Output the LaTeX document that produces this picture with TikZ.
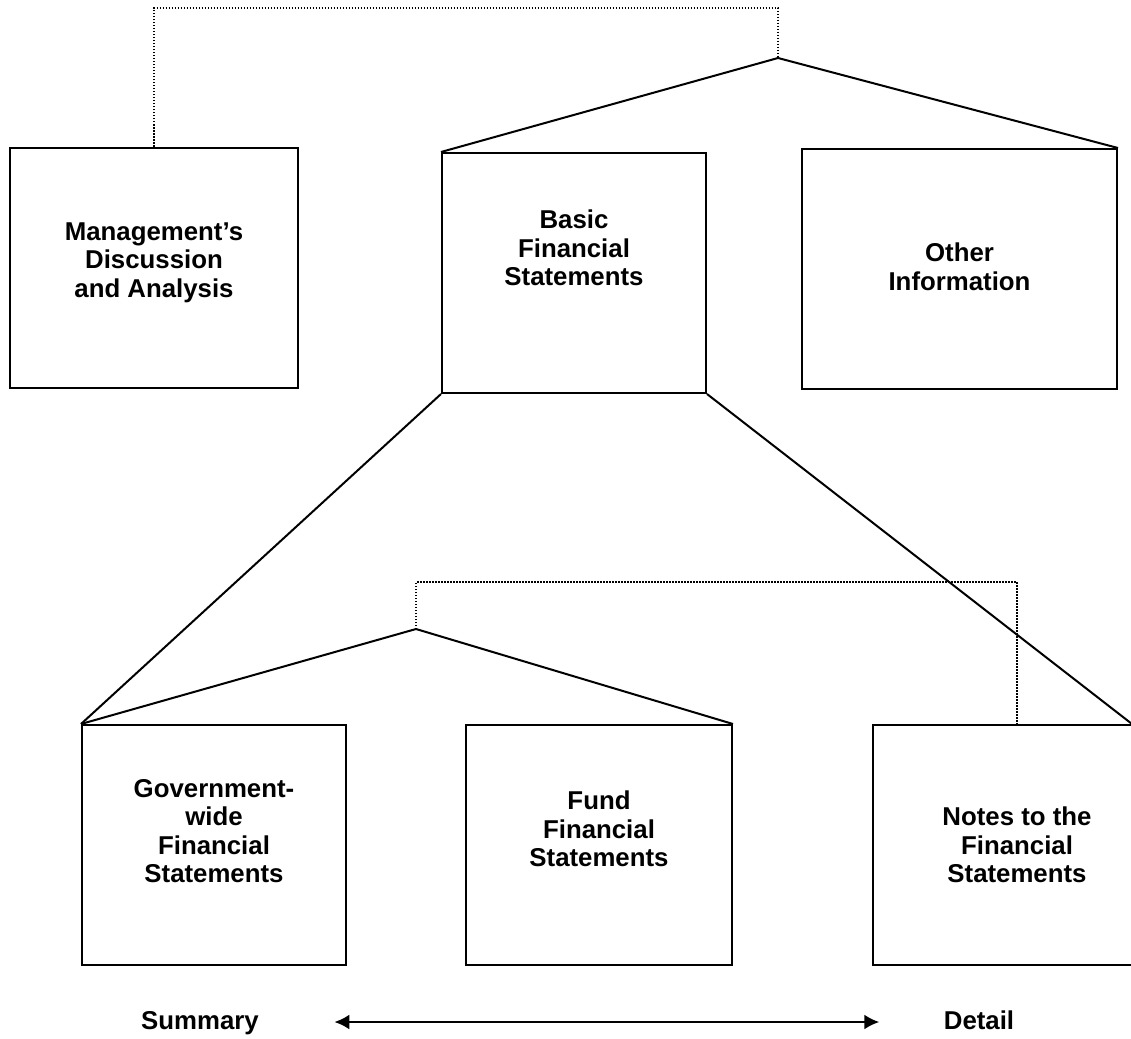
\documentclass[tikz,border=0pt]{standalone}
\usepackage{fontspec}
\setmainfont{Liberation Sans}
\usetikzlibrary{arrows.meta}

\begin{document}
\begin{tikzpicture}[x=1pt, y=-1pt,
    fsbox/.style={draw, line width=2pt, inner sep=0pt, minimum height=240pt},
    fstext/.style={font=\bfseries\fontsize{25.8}{28.5}\selectfont, align=center},
    endlabel/.style={fstext, text height=19pt, text depth=5pt},
    dotline/.style={line width=1.5pt, dash pattern=on 1.5pt off 1.5pt},
    solidline/.style={line width=2pt},
    twoway/.style={line width=2.5pt, {Latex[length=15pt,width=15pt]}-{Latex[length=15pt,width=15pt]}}]
    	\useasboundingbox (0,0) rectangle (1131,1038);

    	% top row
    	\node[fsbox, minimum width=288pt] (mda) at (154,267.5) {};
    	\node[fsbox, minimum width=264pt] (basic) at (574,273) {};
    	\node[fsbox, minimum width=315pt] (other) at (959.5,269) {};
    	\node[fstext] (mdaT) at ([yshift=5]mda.center) {Management's\\Discussion\\and Analysis};
    	\node[fstext] (basicT) at ([yshift=25]basic.center) {Basic\\Financial\\Statements};
    	\node[fstext] (otherT) at ([yshift=2]other.center) {Other\\Information};

    	% bottom row
    	\node[fsbox, minimum width=264pt] (gov) at (214,845) {};
    	\node[fsbox, minimum width=266pt] (fund) at (599,845) {};
    	\node[fsbox, minimum width=288pt] (notes) at (1017,845) {};
    	\node[fstext] (govT) at ([yshift=14]gov.center) {Government-\\wide\\Financial\\Statements};
    	\node[fstext] (fundT) at ([yshift=16]fund.center) {Fund\\Financial\\Statements};
    	\node[fstext] (notesT) at (notes.center) {Notes to the\\Financial\\Statements};

    	% top apex
    	\coordinate (top) at (778,58);
    	\coordinate (topbend) at (778,8);
    	\draw[solidline] (basic.north west) -- (top) -- (other.north east);
    	\draw[dotline] (mda.north) |- (topbend) -- (top);

    	% basic to bottom row
    	\draw[solidline] (basic.south west) -- (gov.north west);
    	\draw[solidline] (basic.south east) -- ([xshift=115]notes.north);

    	% bottom apex
    	\coordinate (low) at (416,629);
    	\coordinate (lowbend) at (416,582);
    	\draw[solidline] (gov.north west) -- (low) -- (fund.north east);
    	\draw[dotline] (low) -- (lowbend) -| (notes.north);

    	% summary to detail
    	\node[endlabel] (summary) at (200,1022) {Summary};
    	\node[endlabel] (detail) at (979,1022) {Detail};
    	\draw[twoway] ([xshift=72]summary.east) -- ([xshift=-61]detail.west);
\end{tikzpicture}
\end{document}
